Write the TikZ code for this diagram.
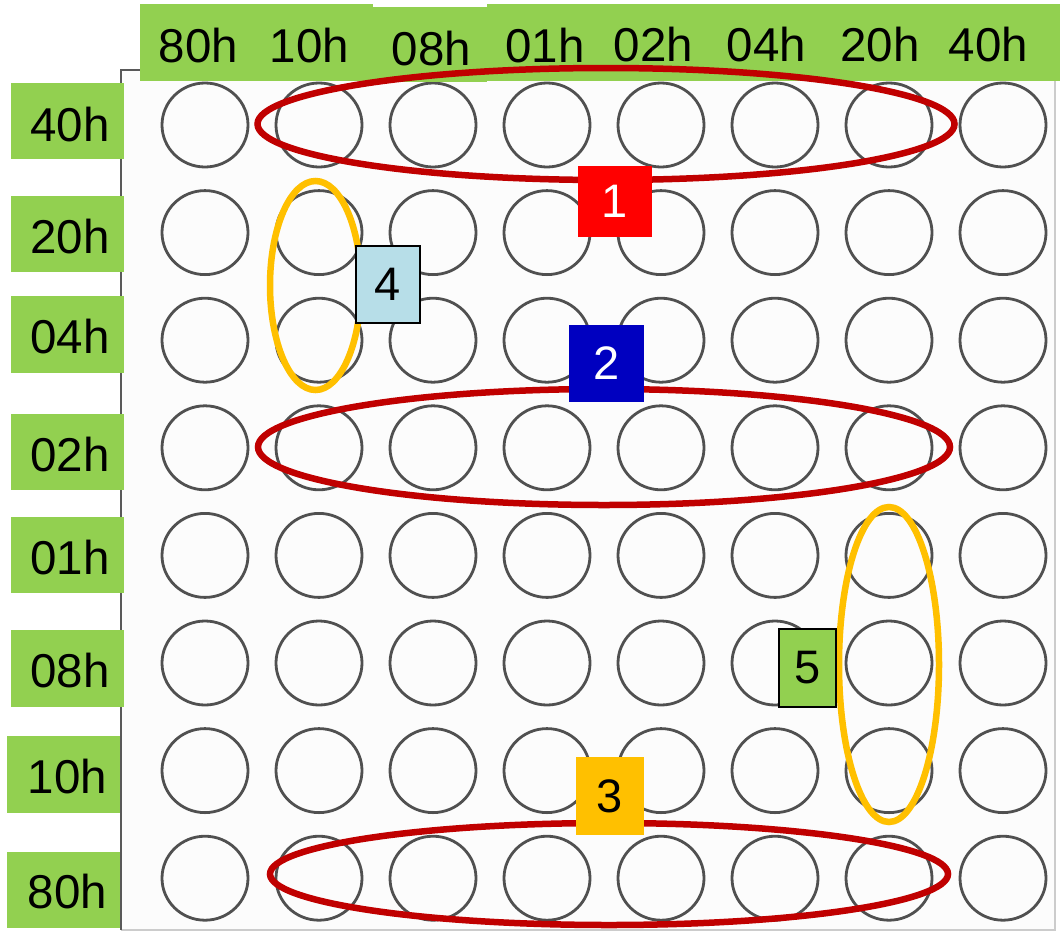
\documentclass[tikz,border=0pt]{standalone}
\usepackage{fontspec}
\setmainfont{Liberation Sans}
\definecolor{lgreen}{HTML}{92D050}
\definecolor{dred}{HTML}{C00000}
\definecolor{gold}{HTML}{FFC000}
\definecolor{lblue}{HTML}{B7DEE8}
\definecolor{dblue}{HTML}{0000C0}
\definecolor{ledgray}{HTML}{505050}
\definecolor{pure}{HTML}{FF0000}
\begin{document}
\begin{tikzpicture}[x=1pt,y=-1pt,
  lab/.style={font=\fontsize{47.5}{50}\selectfont, inner sep=0pt, anchor=base},
  led/.style={draw=ledgray, line width=2.8pt},
  ring/.style={line width=6.5pt},
  numbox/.style={font=\fontsize{47}{50}\selectfont, inner sep=0pt, outer sep=0pt},
  greenbox/.style={fill=lgreen}]
\useasboundingbox (0,0) rectangle (1060,932);
\fill[white] (0,0) rectangle (1060,932);
% LED matrix panel
\fill[gray!2] (121,70) rectangle (1055,930);
\draw[gray!40, line width=1.5pt] (121,70) -- (1055,70) -- (1055,930) -- (121,930);
\draw[gray!70!black, line width=2.5pt] (120,70) -- (140,70);
\draw[gray!70!black, line width=2.5pt] (121,70) -- (121,930);
\foreach \i in {0,...,7}
  \foreach \j in {0,...,7}
    \draw[led] ({205+114*\i},{125+107.6*\j}) ellipse [x radius=43pt, y radius=42pt];
% top header
\fill[greenbox] (140,4) rectangle (373,81);
\fill[greenbox] (373,7) rectangle (487,82);
\fill[greenbox] (487,4) rectangle (1060,81);
\node[lab] (c1) at (198.5,62) {80h};
\node[lab] (c2) at (309.5,62) {10h};
\node[lab] (c3) at (431.5,65) {08h};
\node[lab] (c4) at (545,62) {01h};
\node[lab] (c5) at (653.5,61) {02h};
\node[lab] (c6) at (766.5,61) {04h};
\node[lab] (c7) at (880,61) {20h};
\node[lab] (c8) at (988.5,61) {40h};
% left header
\fill[greenbox] (11,83) rectangle (124,159);
\fill[greenbox] (11,196) rectangle (124,272);
\fill[greenbox] (11,296) rectangle (124,373);
\fill[greenbox] (11,414) rectangle (124,490);
\fill[greenbox] (11,517) rectangle (124,593);
\fill[greenbox] (11,630) rectangle (124,707);
\fill[greenbox] (7,736) rectangle (120,813);
\fill[greenbox] (7,852) rectangle (120,928);
\node[lab] (r1) at (70,141) {40h};
\node[lab] (r2) at (70,253) {20h};
\node[lab] (r3) at (70,353) {04h};
\node[lab] (r4) at (70,471) {02h};
\node[lab] (r5) at (70,574) {01h};
\node[lab] (r6) at (70,687) {08h};
\node[lab] (r7) at (67.5,793) {10h};
\node[lab] (r8) at (67.5,908) {80h};
% highlight rings
\draw[ring, dred] (606,124) ellipse [x radius=348.5pt, y radius=56pt];
\draw[ring, dred] (604,447) ellipse [x radius=346pt, y radius=58pt];
\draw[ring, dred] (609,874) ellipse [x radius=339pt, y radius=51pt];
\draw[ring, gold] (315.5,285.5) ellipse [x radius=45.5pt, y radius=104.5pt];
\draw[ring, gold] (889,664.5) ellipse [x radius=50pt, y radius=157.5pt];
% numbered tags
\node[numbox, fill=pure, text=white, minimum width=74pt, minimum height=71pt] (n1) at (615,201.5) {1};
\node[numbox, fill=dblue, text=white, minimum width=75pt, minimum height=77pt] (n2) at (606.5,363.5) {2};
\node[numbox, fill=gold, minimum width=68pt, minimum height=78pt] (n3) at (610,796) {3};
\node[numbox, fill=lblue, draw=black, line width=1.5pt, minimum width=64pt, minimum height=77pt] (n4) at (388,284.5) {4};
\node[numbox, fill=lgreen, draw=black, line width=1.5pt, minimum width=57pt, minimum height=78pt] (n5) at (807.5,668) {5};
\end{tikzpicture}
\end{document}
